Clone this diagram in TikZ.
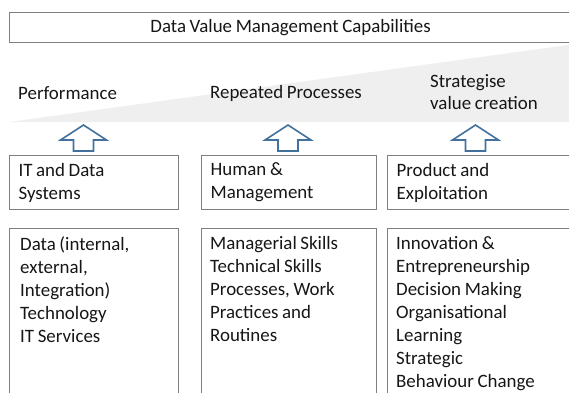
\documentclass[tikz,border=0pt]{standalone}
\usepackage{fontspec}
\setmainfont{Carlito}[WordSpace=0.85]
\begin{document}
\begin{tikzpicture}[x=1pt, y=-1pt, font=\fontsize{18.9}{23}\selectfont]
    % Define colors
    \definecolor{framegray}{RGB}{127,127,127}
    \definecolor{arrowblue}{RGB}{65,113,156}
    \definecolor{wedgegray}{RGB}{239,239,239}
    \definecolor{textdark}{RGB}{22,22,22}

    \tikzset{
        capbox/.style={draw=framegray, line width=1.2pt, anchor=north west, text width=#1,
            align=flush left, inner xsep=9pt, minimum height=54pt, text=textdark},
        listbox/.style={draw=framegray, line width=1.2pt, anchor=north west,
            minimum width=#1, minimum height=175pt, inner sep=0pt},
        listtext/.style={anchor=north west, align=left, inner sep=0pt, text=textdark},
        steplabel/.style={anchor=west, align=left, inner sep=0pt, text=textdark},
        uparrow/.style={draw=arrowblue, line width=1.6pt, fill=white, line join=miter}
    }

    \clip (0,0) rectangle (569,392);

    % Grey wedge behind the labels
    \fill[wedgegray] (9,122) -- (575,44) -- (575,122) -- cycle;

    % Title bar
    \node[draw=framegray, line width=1.2pt, anchor=north west, minimum width=562pt,
        minimum height=30pt, inner sep=0pt, text=textdark] (title) at (9,12)
        {Data Value Management Capabilities};

    % Labels on the wedge
    \node[steplabel] (perf) at (18,93) {Performance};
    \node[steplabel] (repeat) at (210,93) {Repeated Processes};
    \node[steplabel, font=\fontsize{18.9}{21.5}\selectfont] (strat) at (430,92)
        {Strategise\\value creation};

    % Hollow arrows
    \foreach \ax in {83.5,288,475.5}
        \draw[uparrow] (\ax,125) -- ++(23,15) -- ++(-13,0) -- ++(0,11) -- ++(-20,0)
            -- ++(0,-11) -- ++(-13,0) -- cycle;

    % Capability boxes
    \node[capbox=151pt] (itsys) at (9,155) {IT and Data\\Systems};
    \node[capbox=157pt] (human) at (201,155) {Human \&\\Management};
    \node[capbox=166pt] (product) at (387,155) {Product and\\Exploitation};

    % Lists below
    \node[listbox=169pt] (itlist) at (9,228) {};
    \node[listbox=175pt] (humanlist) at (201,228) {};
    \node[listbox=184pt] (productlist) at (387,228) {};

    \node[listtext] (ittxt) at (20,236)
        {Data (internal,\\external,\\Integration)\\Technology\\IT Services};
    \node[listtext] (humantxt) at (210,236)
        {Managerial Skills\\Technical Skills\\Processes,  Work\\Practices and\\Routines};
    \node[listtext] (producttxt) at (396,236)
        {Innovation \&\\Entrepreneurship\\Decision Making\\Organisational\\Learning\\Strategic\\Behaviour Change};

\end{tikzpicture}
\end{document}
